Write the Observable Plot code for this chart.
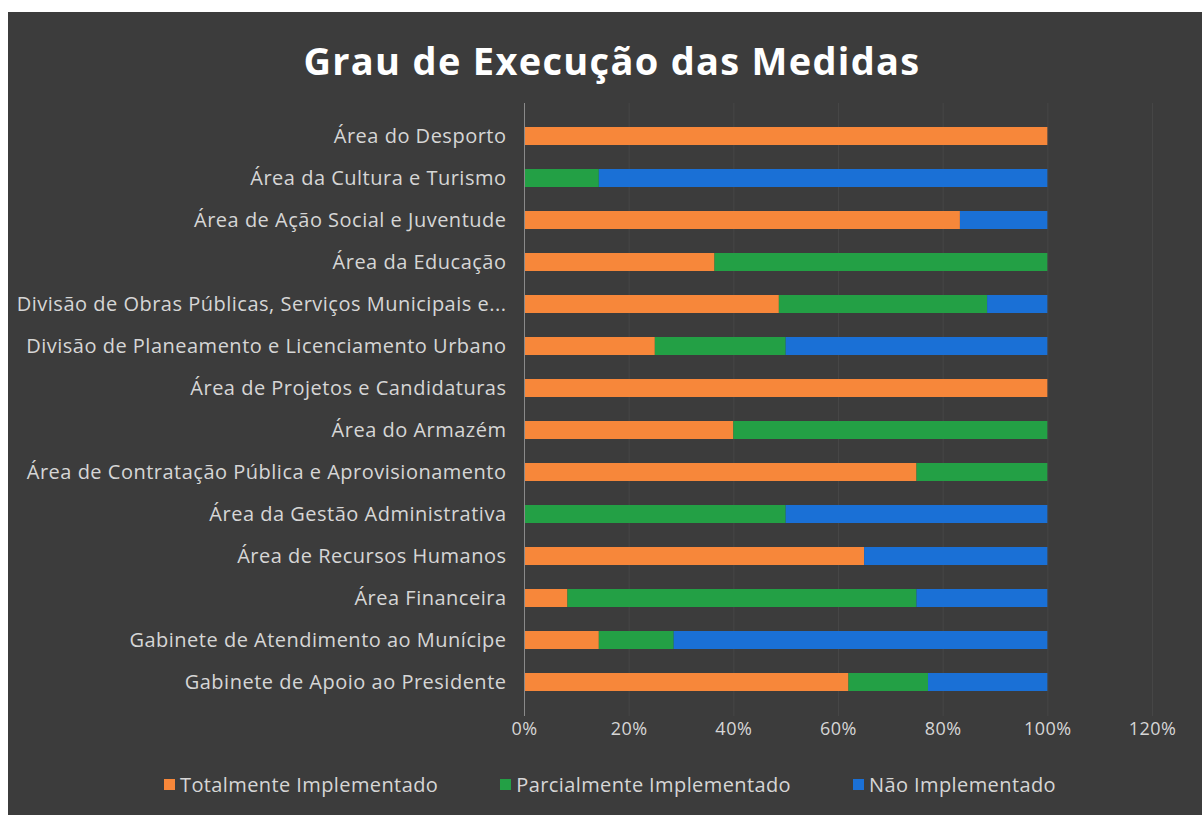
<!DOCTYPE html>
<html>
<head>
<meta charset="utf-8">
<script src="https://cdn.jsdelivr.net/npm/d3@7"></script>
<script src="https://cdn.jsdelivr.net/npm/@observablehq/plot@0.6"></script>
<style>
  html, body { margin: 0; padding: 0; background: #ffffff; }
  #panel {
    position: absolute; left: 8px; top: 12px; width: 1194px; height: 803px;
    background: #3c3c3c; font-family: "Open Sans", sans-serif; overflow: hidden;
  }
  #title {
    height: 88px; line-height: 96px; text-align: center; color: #ffffff;
    font-weight: 700; font-size: 38px; letter-spacing: 1.3px; padding-left: 14px;
  }
  #legend {
    display: flex; justify-content: center; gap: 62px; color: #d6d6d6;
    font-size: 20px; letter-spacing: 0.4px; margin-top: 21px; padding-left: 10px;
  }
  #legend span.sw { display: inline-block; width: 11px; height: 11px; margin-right: 5px; }
  #legend .item { display: flex; align-items: center; }
</style>
</head>
<body>
<div id="panel">
  <div id="title">Grau de Execução das Medidas</div>
  <div id="chart"></div>
  <div id="legend"></div>
</div>
<script>
const categories = [
  "Área do Desporto",
  "Área da Cultura e Turismo",
  "Área de Ação Social e Juventude",
  "Área da Educação",
  "Divisão de Obras Públicas, Serviços Municipais e...",
  "Divisão de Planeamento e Licenciamento Urbano",
  "Área de Projetos e Candidaturas",
  "Área do Armazém",
  "Área de Contratação Pública e Aprovisionamento",
  "Área da Gestão Administrativa",
  "Área de Recursos Humanos",
  "Área Financeira",
  "Gabinete de Atendimento ao Munícipe",
  "Gabinete de Apoio ao Presidente"
];
const seriesNames = ["Totalmente Implementado", "Parcialmente Implementado", "Não Implementado"];
const seriesColors = ["#f7873a", "#23a045", "#1a70d6"];
const totalmente   = [1.000, 0.000, 0.833, 0.364, 0.487, 0.25, 1.0, 0.40, 0.75, 0.00, 0.65, 0.083, 0.143, 0.620];
const parcialmente = [0.000, 0.143, 0.000, 0.636, 0.398, 0.25, 0.0, 0.60, 0.25, 0.50, 0.00, 0.667, 0.143, 0.152];
const naoImpl      = [0.000, 0.857, 0.167, 0.000, 0.115, 0.50, 0.0, 0.00, 0.00, 0.50, 0.35, 0.250, 0.714, 0.228];
const xTicks = [0, 0.2, 0.4, 0.6, 0.8, 1.0, 1.2];

const seriesValues = [totalmente, parcialmente, naoImpl];
const rows = [];
seriesNames.forEach((s, si) => {
  categories.forEach((c, ci) => {
    rows.push({category: c, series: s, value: seriesValues[si][ci]});
  });
});

const chart = Plot.plot({
  width: 1194,
  height: 650,
  marginLeft: 516,
  marginRight: 50,
  marginTop: 3,
  marginBottom: 34,
  style: {background: "transparent", color: "#d6d6d6", fontFamily: "Open Sans, sans-serif", fontSize: "20px", letterSpacing: "0.5px"},
  x: {domain: [0, 1.2], ticks: xTicks, tickFormat: d => Math.round(d * 100) + "%", tickSize: 0, tickPadding: 6, label: null},
  y: {domain: categories, padding: 0.57, tickSize: 0, tickPadding: 18, label: null},
  color: {domain: seriesNames, range: seriesColors},
  marks: [
    Plot.gridX(xTicks.slice(1), {stroke: "#464646", strokeOpacity: 1}),
    Plot.barX(rows, Plot.stackX({x: "value", y: "category", fill: "series", order: seriesNames})),
    Plot.ruleX([0], {stroke: "#8a8a8a"})
  ]
});
chart.querySelectorAll("[aria-label='x-axis tick label'] text").forEach(t => t.setAttribute("font-size", "18px"));
document.getElementById("chart").appendChild(chart);

const legend = document.getElementById("legend");
seriesNames.forEach((s, i) => {
  const item = document.createElement("div");
  item.className = "item";
  const sw = document.createElement("span");
  sw.className = "sw";
  sw.style.background = seriesColors[i];
  item.appendChild(sw);
  item.appendChild(document.createTextNode(s));
  legend.appendChild(item);
});
</script>
</body>
</html>
